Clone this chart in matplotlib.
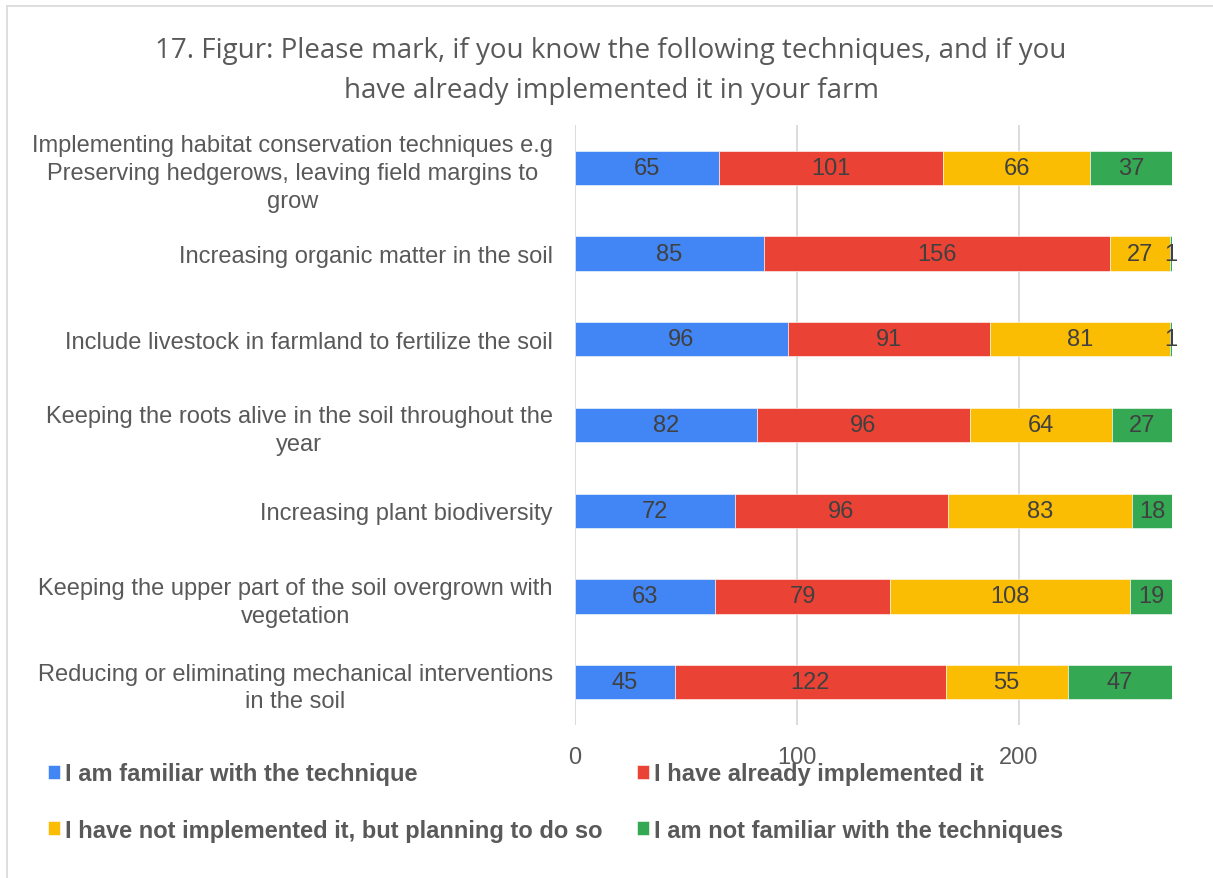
import matplotlib.pyplot as plt
import numpy as np
from matplotlib.lines import Line2D

categories = [
    "Implementing habitat conservation techniques e.g\nPreserving hedgerows, leaving field margins to\ngrow",
    "Increasing organic matter in the soil",
    "Include livestock in farmland to fertilize the soil",
    "Keeping the roots alive in the soil throughout the\nyear",
    "Increasing plant biodiversity",
    "Keeping the upper part of the soil overgrown with\nvegetation",
    "Reducing or eliminating mechanical interventions\nin the soil",
]
series_names = [
    "I am familiar with the technique",
    "I have already implemented it",
    "I have not implemented it, but planning to do so",
    "I am not familiar with the techniques",
]
familiar = [65, 85, 96, 82, 72, 63, 45]
implemented = [101, 156, 91, 96, 96, 79, 122]
planning = [66, 27, 81, 64, 83, 108, 55]
not_familiar = [37, 1, 1, 27, 18, 19, 47]
colors = ["#4285F4", "#EA4335", "#FBBC04", "#34A853"]

grey = "#595959"
narrow = ['Liberation Sans Narrow', 'Liberation Sans', 'DejaVu Sans']
plt.rcParams['font.family'] = ['Liberation Sans', 'DejaVu Sans']

fig = plt.figure(figsize=(12.13, 8.79), dpi=100)
ax = fig.add_axes([575/1213, 1-726/879, (1172-575)/1213, 600/879])

data = [familiar, implemented, planning, not_familiar]
y = np.arange(len(categories))
left = np.zeros(len(categories))
for vals, name, c in zip(data, series_names, colors):
    bars = ax.barh(y, vals, left=left, height=0.4, color=c, label=name,
                   edgecolor='white', linewidth=0.4, zorder=3)
    ax.bar_label(bars, label_type='center', color='#404040', fontsize=17,
                 family=narrow)
    left += np.array(vals)

ax.set_ylim(len(categories) - 0.5, -0.5)
ax.set_xlim(0, left.max())
ax.set_xticks([0, 100, 200])
ax.set_yticks(y)
ax.set_yticklabels(categories, ha='right', multialignment='center',
                   linespacing=1.34)
ax.tick_params(axis='y', length=0, pad=16, labelsize=17, labelcolor=grey)
ax.tick_params(axis='x', length=0, pad=15, labelsize=17, labelcolor=grey)
for lbl in ax.get_xticklabels():
    lbl.set_family(narrow)
ax.grid(axis='x', color='#D9D9D9', linewidth=1.3, zorder=0)
for s in ax.spines.values():
    s.set_visible(False)

fig.text(611/1213, 1-71/879,
         "17. Figur: Please mark, if you know the following techniques, and if you\nhave already implemented it in your farm",
         ha='center', va='center', fontsize=20, color=grey,
         family=['Open Sans', 'DejaVu Sans'], linespacing=1.54)

# chart frame (cut at right and bottom)
fig.add_artist(Line2D([7/1213, 7/1213], [0, 1-7/879], transform=fig.transFigure,
                      color='#D9D9D9', linewidth=1.2))
fig.add_artist(Line2D([7/1213, 1], [1-7/879, 1-7/879], transform=fig.transFigure,
                      color='#D9D9D9', linewidth=1.2))

# legend filled row by row like the original
handles, labels = ax.get_legend_handles_labels()
order = [0, 2, 1, 3]
fig.legend([handles[i] for i in order], [labels[i] for i in order], ncol=2,
           loc='upper left', bbox_to_anchor=(48/1213, 1-763/879),
           frameon=False, borderpad=0, borderaxespad=0,
           handlelength=0.52, handleheight=0.52, handletextpad=0.2,
           columnspacing=1.44, labelspacing=1.42,
           prop={'weight': 'bold', 'size': 17}, labelcolor=grey)

fig.savefig("out.png", dpi=100)
